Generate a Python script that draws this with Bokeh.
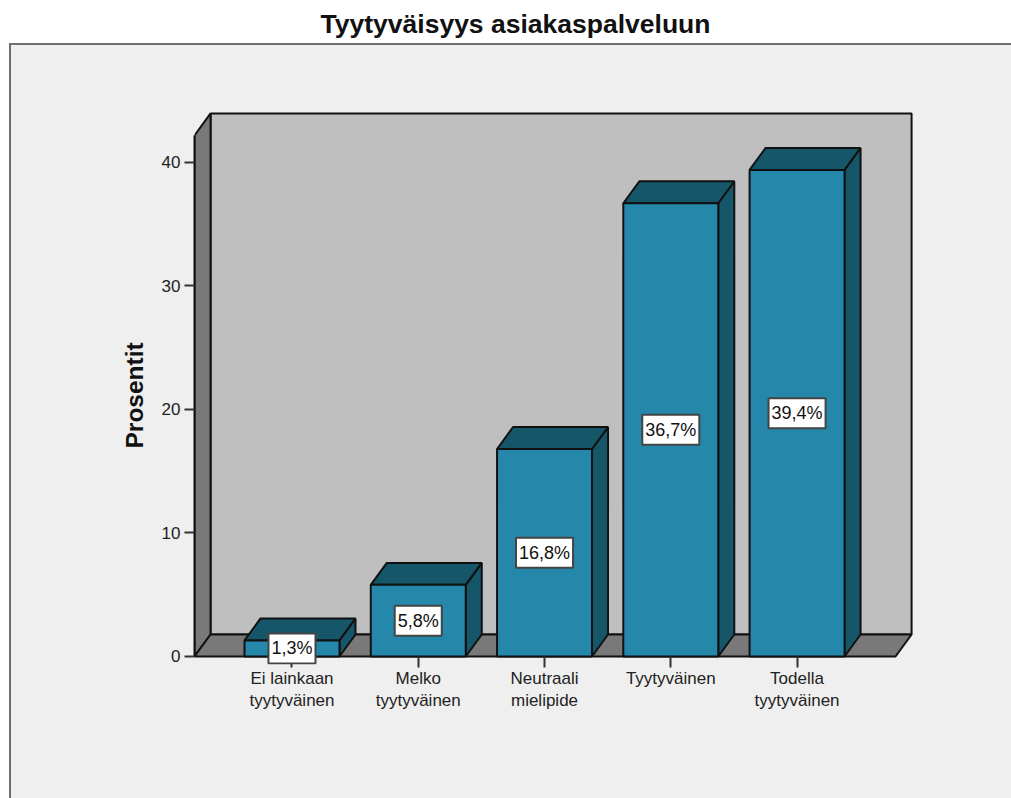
from bokeh.embed import file_html
from bokeh.resources import INLINE
from bokeh.plotting import figure
from bokeh.models import FixedTicker, InlineStyleSheet, Label, Range1d, Title

categories = ["Ei lainkaan\ntyytyväinen", "Melko\ntyytyväinen", "Neutraali\nmielipide",
              "Tyytyväinen", "Todella\ntyytyväinen"]
percent = [1.3, 5.8, 16.8, 36.7, 39.4]
value_labels = ["1,3%", "5,8%", "16,8%", "36,7%", "39,4%"]
y_ticks = [0, 10, 20, 30, 40]

FRONT = "#2588ab"
SHADE = "#155669"
WALL = "#bfbfbf"
FLOOR = "#797979"
PANEL = "#efefef"
EDGE = "#111111"
FONT = "Liberation Sans"

# Depth of the pseudo-3D extrusion, in data units
DX = 0.127
DY = 1.78
BAR_W = 0.752
# Extent of the chart box
X0, X1 = -0.772, 4.78
Y_TOP = 42.19

# Grey panel with a darker top and left rule, painted behind a transparent canvas
panel_css = InlineStyleSheet(css=f"""
:host {{
  background-color: white;
  background-image: linear-gradient({PANEL}, {PANEL}), linear-gradient(#6f6f6f, #6f6f6f);
  background-position: 11px 45px, 9px 43px;
  background-size: 100% 100%, 100% 100%;
  background-repeat: no-repeat;
}}
""")

# The plotting area reaches slightly below zero so the lowest value tag is not cut off
p = figure(width=1011, height=798, output_backend="svg", toolbar_location=None,
           x_range=Range1d(-0.772, 4.938), y_range=Range1d(-0.648, 44.37),
           min_border_left=194, min_border_right=96, min_border_top=108, min_border_bottom=134,
           background_fill_color=None, border_fill_color=None, outline_line_color=None)
p.stylesheets = [panel_css]
p.grid.visible = False

# Heading, kept in a side panel so it may sit well above the plotting area
p.add_layout(Label(x=321, y=85, x_units="screen", y_units="screen",
                   text="Tyytyväisyys asiakaspalveluun", text_align="center",
                   text_baseline="middle", text_font=FONT, text_font_size="26.5px",
                   text_font_style="bold", text_color="#111111"), "above")
p.add_layout(Title(text="Prosentit", align="left", offset=216, standoff=22, text_font=FONT,
                   text_font_size="24.5px", text_font_style="bold", text_color="#111111"), "left")

# Back wall, left wall and floor of the box
p.patch([X0 + DX, X1 + DX, X1 + DX, X0 + DX], [DY, DY, Y_TOP + DY, Y_TOP + DY],
        fill_color=WALL, line_color=EDGE, line_width=2)
p.patch([X0, X0 + DX, X0 + DX, X0], [0, DY, Y_TOP + DY, Y_TOP],
        fill_color=FLOOR, line_color=EDGE, line_width=2)
p.patch([X0, X1, X1 + DX, X0 + DX], [0, 0, DY, DY],
        fill_color=FLOOR, line_color=EDGE, line_width=2)

# Bars: side and top faces derived from each value, then the front face
xs = list(range(len(percent)))
side_x, side_y, top_x, top_y = [], [], [], []
for x, v in zip(xs, percent):
    r = x + BAR_W / 2
    l = x - BAR_W / 2
    side_x.append([r, r + DX, r + DX, r])
    side_y.append([0, DY, v + DY, v])
    top_x.append([l, r, r + DX, l + DX])
    top_y.append([v, v, v + DY, v + DY])
p.patches(side_x, side_y, fill_color=SHADE, line_color=EDGE, line_width=2)
p.patches(top_x, top_y, fill_color=SHADE, line_color=EDGE, line_width=2)
p.vbar(x=xs, top=percent, width=BAR_W, bottom=0, fill_color=FRONT, line_color=EDGE, line_width=2)

# Axes
ya = p.yaxis[0]
ya.ticker = FixedTicker(ticks=y_ticks)
ya.bounds = (0, Y_TOP)
ya.major_label_text_font = FONT
ya.major_label_text_font_size = "17px"
ya.major_label_text_color = "#222222"
ya.major_label_standoff = 4
ya.major_tick_out = 10
ya.major_tick_in = 0
ya.minor_tick_line_color = None
ya.axis_line_width = 2
ya.axis_line_color = EDGE
ya.major_tick_line_width = 2
ya.major_tick_line_color = "#333333"

# Tick marks run from the zero line past the lower edge of the plotting area
xa = p.xaxis[0]
xa.ticker = FixedTicker(ticks=xs)
xa.major_label_overrides = dict(zip(xs, categories))
xa.major_label_text_font = FONT
xa.major_label_text_font_size = "17px"
xa.major_label_text_color = "#222222"
xa.major_label_standoff = 1
xa.major_tick_out = 3
xa.major_tick_in = 8
xa.minor_tick_line_color = None
xa.axis_line_color = None
xa.major_tick_line_width = 2
xa.major_tick_line_color = "#333333"

# Value tags centred on each bar
for x, v, tag in zip(xs, percent, value_labels):
    p.add_layout(Label(x=x, y=v / 2, text=tag, text_align="center", text_baseline="middle",
                       text_font=FONT, text_font_size="18px", text_color="#111111",
                       background_fill_color="white", border_line_color="#444444",
                       border_line_width=2, padding=(3, 5)))

open("out.html", "w").write(file_html(p, INLINE))
